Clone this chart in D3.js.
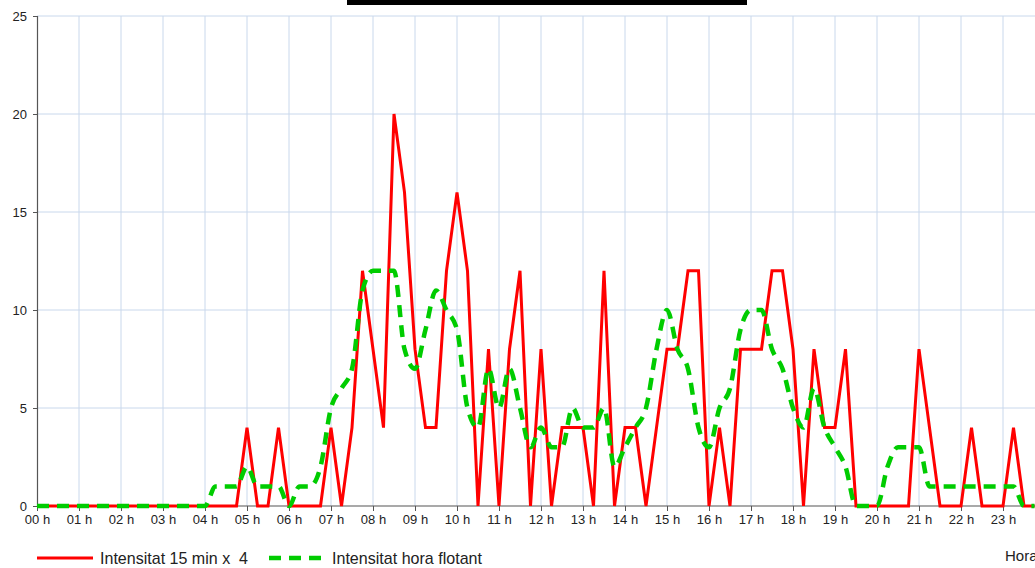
<!DOCTYPE html>
<html>
<head>
<meta charset="utf-8">
<script src="https://cdn.jsdelivr.net/npm/d3@7"></script>
<style>
  body { margin: 0; background: #fff; }
  svg { display: block; overflow: hidden; }
  text { font-family: "Liberation Sans", Arial, sans-serif; fill: #222; }
</style>
</head>
<body>
<script>
// Hour labels on the x axis
var hourLabels = ["00 h","01 h","02 h","03 h","04 h","05 h","06 h","07 h","08 h","09 h","10 h","11 h",
  "12 h","13 h","14 h","15 h","16 h","17 h","18 h","19 h","20 h","21 h","22 h","23 h"];

// y tick values
var yTicks = [0, 5, 10, 15, 20, 25];

// Intensitat 15 min x 4 (one value every quarter hour, 00:00 .. 23:45)
var red15 = [
  0,0,0,0, 0,0,0,0, 0,0,0,0, 0,0,0,0,   // 00 - 03
  0,0,0,0,                              // 04
  4,0,0,4,                              // 05
  0,0,0,0,                              // 06
  4,0,4,12,                             // 07
  8,4,20,16,                            // 08
  8,4,4,12,                             // 09
  16,12,0,8,                            // 10
  0,8,12,0,                             // 11
  8,0,4,4,                              // 12
  4,0,12,0,                             // 13
  4,4,0,4,                              // 14
  8,8,12,12,                            // 15
  0,4,0,8,                              // 16
  8,8,12,12,                            // 17
  8,0,8,4,                              // 18
  4,8,0,0,                              // 19
  0,0,0,0,                              // 20
  8,4,0,0,                              // 21
  0,4,0,0,                              // 22
  0,4,0,0                               // 23
];

// Intensitat hora flotant
var greenHour = [
  0,0,0,0, 0,0,0,0, 0,0,0,0, 0,0,0,0,   // 00 - 03
  0,1,1,1,                              // 04
  2,1,1,1,                              // 05
  0,1,1,2,                              // 06
  5,6,7,11,                             // 07
  12,12,12,8,                           // 08
  7,9,11,10,                            // 09
  9,5,4,7,                              // 10
  5,7,5,3,                              // 11
  4,3,3,5,                              // 12
  4,4,5,2,                              // 13
  3,4,5,8,                              // 14
  10,8,7,4,                             // 15
  3,5,6,9,                              // 16
  10,10,8,7,                            // 17
  5,4,6,4,                              // 18
  3,2,0,0,                              // 19
  0,2,3,3,                              // 20
  3,1,1,1,                              // 21
  1,1,1,1,                              // 22
  1,1,0,0                               // 23
];

var svgWidth = 1035;
var svgHeight = 568;

var plotLeft = 37, plotTop = 16, plotBottom = 506;
var quarterWidth = 10.5;

var svg = d3.select("body")
  .append("svg")
  .attr("width", svgWidth)
  .attr("height", svgHeight);

// Scales: x in quarter-hour steps, 96 steps per day
var xScale = d3.scaleLinear()
  .domain([0, 96])
  .range([plotLeft, plotLeft + 96 * quarterWidth]);

var yScale = d3.scaleLinear()
  .domain([0, 25])
  .range([plotBottom, plotTop]);

// Black bar at the top (title area)
svg.append("rect")
  .attr("x", 347).attr("y", 0)
  .attr("width", 400).attr("height", 5)
  .attr("fill", "#000");

// Grid lines
var grid = svg.append("g");
grid.selectAll(".vgrid")
  .data(d3.range(1, 25))
  .enter()
  .append("line")
  .attr("x1", d => xScale(d * 4)).attr("x2", d => xScale(d * 4))
  .attr("y1", plotTop).attr("y2", plotBottom)
  .attr("stroke", "#c9d8ec").attr("stroke-width", 1);

grid.selectAll(".hgrid")
  .data(yTicks.slice(1))
  .enter()
  .append("line")
  .attr("x1", plotLeft).attr("x2", svgWidth)
  .attr("y1", d => yScale(d)).attr("y2", d => yScale(d))
  .attr("stroke", "#c9d8ec").attr("stroke-width", 1);

// Axes
var leftAxis = d3.axisLeft(yScale)
  .tickValues(yTicks)
  .tickSize(4)
  .tickPadding(6);

var bottomAxis = d3.axisBottom(xScale)
  .tickValues(d3.range(0, 24).map(h => h * 4))
  .tickFormat((d, i) => hourLabels[i])
  .tickSize(5)
  .tickPadding(4);

var yAxisG = svg.append("g")
  .attr("transform", `translate(${plotLeft}, 0)`)
  .call(leftAxis);

var xAxisG = svg.append("g")
  .attr("transform", `translate(0, ${plotBottom})`)
  .call(bottomAxis);

[yAxisG, xAxisG].forEach(function(g) {
  g.select(".domain").attr("stroke", "#555").attr("stroke-width", 1.2);
  g.selectAll(".tick line").attr("stroke", "#555");
  g.selectAll(".tick text")
    .style("font-family", "'Liberation Sans', Arial, sans-serif")
    .style("font-size", "13px")
    .attr("fill", "#222");
});
xAxisG.select(".domain").attr("d", `M${plotLeft},0H${svgWidth}`);

// Lines
var redLine = d3.line()
  .x((d, i) => xScale(i))
  .y(d => yScale(d));

var greenLine = d3.line()
  .x((d, i) => xScale(i))
  .y(d => yScale(d))
  .curve(d3.curveMonotoneX);

svg.append("path")
  .datum(red15)
  .attr("fill", "none")
  .attr("stroke", "#ff0000")
  .attr("stroke-width", 3)
  .attr("stroke-linejoin", "miter")
  .attr("d", redLine);

svg.append("path")
  .datum(greenHour)
  .attr("fill", "none")
  .attr("stroke", "#00cc00")
  .attr("stroke-width", 4.5)
  .attr("stroke-dasharray", "12,8")
  .attr("stroke-linecap", "butt")
  .attr("d", greenLine);

// Legend
var legend = svg.append("g");
legend.append("line")
  .attr("x1", 37).attr("x2", 93)
  .attr("y1", 558).attr("y2", 558)
  .attr("stroke", "#ff0000").attr("stroke-width", 3);
legend.append("text")
  .attr("x", 100).attr("y", 564)
  .style("font-size", "17px")
  .style("white-space", "pre")
  .attr("textLength", 148)
  .attr("lengthAdjust", "spacingAndGlyphs")
  .text("Intensitat 15 min x  4");

legend.append("line")
  .attr("x1", 269).attr("x2", 322)
  .attr("y1", 558).attr("y2", 558)
  .attr("stroke", "#00cc00").attr("stroke-width", 4.5)
  .attr("stroke-dasharray", "12,8");
legend.append("text")
  .attr("x", 332).attr("y", 564)
  .style("font-size", "17px")
  .attr("textLength", 150)
  .attr("lengthAdjust", "spacingAndGlyphs")
  .text("Intensitat hora flotant");

// x axis title, cut at the right edge as in the original
svg.append("text")
  .attr("x", 1005).attr("y", 561)
  .style("font-size", "15px")
  .text("Hora");
</script>
</body>
</html>
